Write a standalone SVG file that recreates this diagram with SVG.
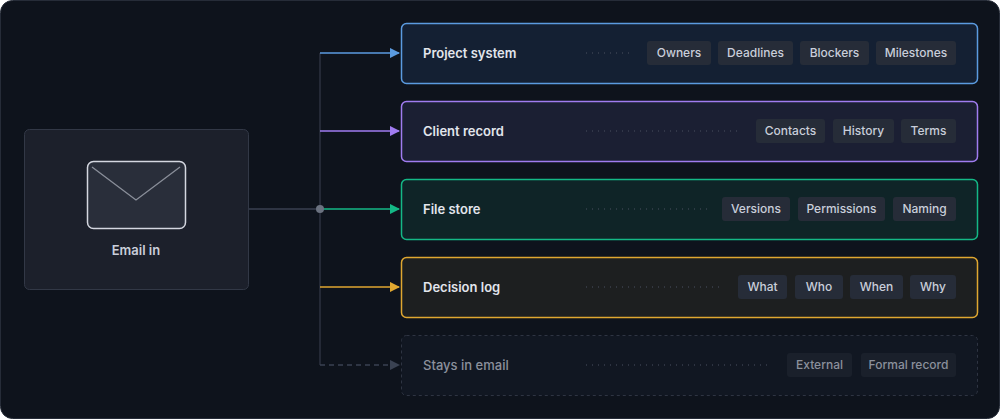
<svg xmlns="http://www.w3.org/2000/svg" width="1000" height="419" viewBox="0 0 1000 419">
<defs>
<style>
.t{font-family:Inter,"Liberation Sans",sans-serif;font-size:13px;font-weight:600;fill:#e2e5ec}
.c{font-family:Inter,"Liberation Sans",sans-serif;font-size:12px;font-weight:500;fill:#c9ceda;text-anchor:middle}
.chip{fill:#262c38}
.dots{stroke:#4a5160;stroke-width:1;stroke-dasharray:1 5}
</style>
<marker id="ab" viewBox="0 0 10 10" refX="9" refY="5" markerWidth="7" markerHeight="7" orient="auto"><path d="M0 0L10 5L0 10z" fill="#5b9be0"/></marker>
<marker id="ap" viewBox="0 0 10 10" refX="9" refY="5" markerWidth="7" markerHeight="7" orient="auto"><path d="M0 0L10 5L0 10z" fill="#a07cf0"/></marker>
<marker id="ag" viewBox="0 0 10 10" refX="9" refY="5" markerWidth="7" markerHeight="7" orient="auto"><path d="M0 0L10 5L0 10z" fill="#14b886"/></marker>
<marker id="aa" viewBox="0 0 10 10" refX="9" refY="5" markerWidth="7" markerHeight="7" orient="auto"><path d="M0 0L10 5L0 10z" fill="#e0a730"/></marker>
<marker id="ax" viewBox="0 0 10 10" refX="9" refY="5" markerWidth="7" markerHeight="7" orient="auto"><path d="M0 0L10 5L0 10z" fill="#3a4252"/></marker>
</defs>
<rect x="0.5" y="0.5" width="999" height="418" rx="12" fill="#0e131c" stroke="#262c38"/>
<g id="connectors" fill="none" stroke-width="1.5">
<path d="M248 209H320" stroke="#3a4150"/>
<path d="M320 53V365" stroke="#3a4150" stroke-width="1"/>
<path d="M320 53H399" stroke="#5b9be0" marker-end="url(#ab)"/>
<path d="M320 131H399" stroke="#a07cf0" marker-end="url(#ap)"/>
<path d="M320 209H399" stroke="#14b886" marker-end="url(#ag)"/>
<path d="M320 287H399" stroke="#e0a730" marker-end="url(#aa)"/>
<path d="M320 365H399" stroke="#3a4252" stroke-dasharray="5 4" marker-end="url(#ax)"/>
<circle cx="320" cy="209" r="4" fill="#6b7280" stroke="none"/>
</g>
<g id="email">
<rect x="24.5" y="129.5" width="224" height="160" rx="5" fill="#1c202b" stroke="#323846"/>
<rect x="87.5" y="161.5" width="98" height="67" rx="6" fill="#292e3a" stroke="#d4d7e0" stroke-width="1.5"/>
<path d="M92 167L136 200L180 167" fill="none" stroke="#8a8f9a" stroke-width="1.3"/>
<text class="t" x="136" y="255" text-anchor="middle" style="fill:#c9ceda">Email in</text>
</g>
<g id="project">
<rect x="401.5" y="23.5" width="576" height="60" rx="5" fill="#142033" stroke="#5b9be0" stroke-width="1.5"/>
<text class="t" x="423" y="58">Project system</text>
<line class="dots" x1="586" y1="53" x2="632" y2="53"/>
<rect class="chip" x="647" y="41" width="64" height="24" rx="3"/><text class="c" x="679" y="57">Owners</text>
<rect class="chip" x="718" y="41" width="75" height="24" rx="3"/><text class="c" x="755.5" y="57">Deadlines</text>
<rect class="chip" x="800" y="41" width="69" height="24" rx="3"/><text class="c" x="834.5" y="57">Blockers</text>
<rect class="chip" x="876" y="41" width="80" height="24" rx="3"/><text class="c" x="916" y="57">Milestones</text>
</g>
<g id="client">
<rect x="401.5" y="101.5" width="576" height="60" rx="5" fill="#1b1f33" stroke="#a07cf0" stroke-width="1.5"/>
<text class="t" x="423" y="136">Client record</text>
<line class="dots" x1="586" y1="131" x2="742" y2="131"/>
<rect class="chip" x="756" y="119" width="69" height="24" rx="3"/><text class="c" x="790.5" y="135">Contacts</text>
<rect class="chip" x="833" y="119" width="61" height="24" rx="3"/><text class="c" x="863.5" y="135">History</text>
<rect class="chip" x="901" y="119" width="55" height="24" rx="3"/><text class="c" x="928.5" y="135">Terms</text>
</g>
<g id="file">
<rect x="401.5" y="179.5" width="576" height="60" rx="5" fill="#0f2427" stroke="#14b886" stroke-width="1.5"/>
<text class="t" x="423" y="214">File store</text>
<line class="dots" x1="586" y1="209" x2="708" y2="209"/>
<rect class="chip" x="722" y="197" width="68" height="24" rx="3"/><text class="c" x="756" y="213">Versions</text>
<rect class="chip" x="798" y="197" width="87" height="24" rx="3"/><text class="c" x="841.5" y="213">Permissions</text>
<rect class="chip" x="893" y="197" width="63" height="24" rx="3"/><text class="c" x="924.5" y="213">Naming</text>
</g>
<g id="decision">
<rect x="401.5" y="257.5" width="576" height="60" rx="5" fill="#1d1f20" stroke="#e0a730" stroke-width="1.5"/>
<text class="t" x="423" y="292">Decision log</text>
<line class="dots" x1="586" y1="287" x2="724" y2="287"/>
<rect class="chip" x="738" y="275" width="49" height="24" rx="3"/><text class="c" x="762.5" y="291">What</text>
<rect class="chip" x="795" y="275" width="48" height="24" rx="3"/><text class="c" x="819" y="291">Who</text>
<rect class="chip" x="850" y="275" width="53" height="24" rx="3"/><text class="c" x="876.5" y="291">When</text>
<rect class="chip" x="910" y="275" width="46" height="24" rx="3"/><text class="c" x="933" y="291">Why</text>
</g>
<g id="stays">
<rect x="401.5" y="335.5" width="576" height="60" rx="5" fill="#111722" stroke="#2e3442" stroke-dasharray="3 3"/>
<text class="t" x="423" y="370" style="font-weight:500;fill:#8b909c">Stays in email</text>
<line class="dots" x1="586" y1="365" x2="772" y2="365"/>
<rect x="787" y="353" width="65" height="24" rx="3" fill="#1a202b"/><text class="c" x="819.5" y="369" style="fill:#8b909c">External</text>
<rect x="861" y="353" width="95" height="24" rx="3" fill="#1a202b"/><text class="c" x="908.5" y="369" style="fill:#8b909c">Formal record</text>
</g>
</svg>
